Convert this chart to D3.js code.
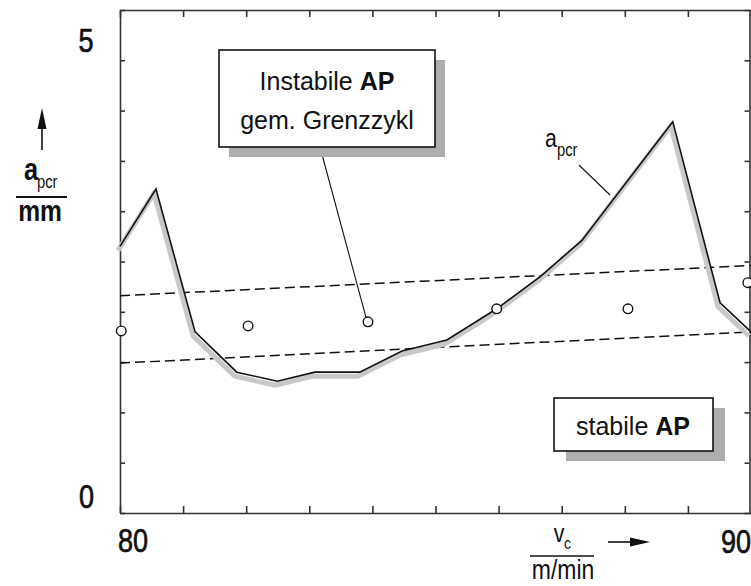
<!DOCTYPE html>
<html>
<head>
<meta charset="utf-8">
<script src="https://cdn.jsdelivr.net/npm/d3@7"></script>
<style>
  html, body { margin: 0; padding: 0; background: #fff; }
  svg { display: block; }
  text { font-family: "Liberation Sans", Arial, sans-serif; fill: #111; }
</style>
</head>
<body>
<svg id="chart" width="751" height="586"></svg>
<script>
// ---------- data ----------
const xDomain = [80, 90];
const yDomain = [0, 5];
const xTickValues = [80, 81, 82, 83, 84, 85, 86, 87, 88, 89, 90];
const yTickValues = [0, 0.5, 1, 1.5, 2, 2.5, 3, 3.5, 4, 4.5, 5];
const xTickLabels = ["80", "90"];
const yTickLabels = ["0", "5"];

// a_pcr curve (v_c in m/min, a_pcr in mm)
const apcrV = [80.00, 80.57, 81.19, 81.85, 82.49, 83.09, 83.80, 84.47, 85.18, 85.97, 86.66, 87.32, 88.76, 89.51, 90.00];
const apcrA = [2.65, 3.22, 1.80, 1.40, 1.31, 1.40, 1.40, 1.61, 1.72, 2.03, 2.35, 2.71, 3.89, 2.09, 1.80];

// measured points (open circles)
const pointV = [80.02, 82.03, 83.93, 85.97, 88.05, 89.95];
const pointA = [1.81, 1.86, 1.90, 2.03, 2.03, 2.29];

// limit-cycle band (dashed)
const upperV = [80, 90];
const upperA = [2.16, 2.46];
const lowerV = [80, 90];
const lowerA = [1.49, 1.80];

// ---------- layout ----------
const svg = d3.select("#chart");
const padL = 120, padR = 751, padT = 10, padB = 513;
const x = d3.scaleLinear().domain(xDomain).range([padL, padR]);
const y = d3.scaleLinear().domain(yDomain).range([padB, padT]);

const NARROW = 0.82;
function label(txt, px, py, size, opts = {}) {
  const t = svg.append("text")
    .attr("transform", `translate(${px},${py}) scale(${opts.sx ?? NARROW},1)`)
    .attr("text-anchor", opts.anchor || "start")
    .style("font-size", size + "px")
    .style("font-weight", opts.bold ? "bold" : "normal")
    .text(txt);
  if (opts.stroke) t.attr("stroke", "#111").attr("stroke-width", opts.stroke);
  return t;
}

// ---------- axes / frame ----------
const frameColor = "#333";
const axB = d3.axisBottom(x).tickValues(xTickValues).tickSizeInner(-7).tickSizeOuter(0).tickFormat("");
const axT = d3.axisTop(x).tickValues(xTickValues).tickSizeInner(-7).tickSizeOuter(0).tickFormat("");
const axL = d3.axisLeft(y).tickValues(yTickValues).tickSizeInner(-5).tickSizeOuter(0).tickFormat("");
const axR = d3.axisRight(y).tickValues(yTickValues).tickSizeInner(-5).tickSizeOuter(0).tickFormat("");

function styleAxis(g) {
  g.selectAll("path").attr("stroke", frameColor).attr("stroke-width", 1.6);
  g.selectAll("line").attr("stroke", frameColor).attr("stroke-width", 1.6);
}
svg.append("g").attr("transform", `translate(0,${padB})`).call(axB).call(styleAxis);
svg.append("g").attr("transform", `translate(0,${padT})`).call(axT).call(styleAxis);
svg.append("g").attr("transform", `translate(${padL},0)`).call(axL).call(styleAxis);
svg.append("g").attr("transform", `translate(${padR - 1.5},0)`).call(axR).call(styleAxis);

// tick labels (regular, slightly thickened)
label(yTickLabels[1], 86, y(5) + 42, 33, { anchor: "middle", stroke: 0.7 });
label(yTickLabels[0], 86.5, y(0) - 5, 33, { anchor: "middle", stroke: 0.7 });
label(xTickLabels[0], x(80) + 13, 552, 33, { anchor: "middle", stroke: 0.7 });
label(xTickLabels[1], x(90) - 15, 553, 33, { anchor: "middle", stroke: 0.7 });

// ---------- dashed band ----------
const line = d3.line().x(d => x(d[0])).y(d => y(d[1]));
const upper = upperV.map((v, i) => [v, upperA[i]]);
const lower = lowerV.map((v, i) => [v, lowerA[i]]);
[upper, lower].forEach(d => {
  svg.append("path").attr("d", line(d)).attr("fill", "none")
    .attr("stroke", "#111").attr("stroke-width", 1.5).attr("stroke-dasharray", "10,5");
});

// ---------- a_pcr curve with shadow ----------
const apcr = apcrV.map((v, i) => [v, apcrA[i]]);
svg.append("path").attr("d", line(apcr)).attr("fill", "none")
  .attr("transform", "translate(-2,4)")
  .attr("stroke", "#c8c8c8").attr("stroke-width", 5).attr("stroke-linejoin", "round");
svg.append("path").attr("d", line(apcr)).attr("fill", "none")
  .attr("stroke", "#111").attr("stroke-width", 1.6).attr("stroke-linejoin", "miter");

// ---------- circles ----------
svg.selectAll("circle.pt").data(pointV.map((v, i) => [v, pointA[i]])).enter()
  .append("circle").attr("class", "pt")
  .attr("cx", d => x(d[0])).attr("cy", d => y(d[1])).attr("r", 4.8)
  .attr("fill", "#fff").attr("stroke", "#111").attr("stroke-width", 1.4);

// ---------- annotation boxes ----------
function box(x0, y0, x1, y1, dx, dy) {
  svg.append("rect").attr("x", x0 + dx).attr("y", y0 + dy).attr("width", x1 - x0).attr("height", y1 - y0)
    .attr("fill", "#adadad");
  svg.append("rect").attr("x", x0).attr("y", y0).attr("width", x1 - x0).attr("height", y1 - y0)
    .attr("fill", "#fff").attr("stroke", "#111").attr("stroke-width", 1.6);
}

// leader to circle 3
svg.append("line").attr("x1", 320).attr("y1", 147).attr("x2", x(pointV[2]) - 2).attr("y2", y(pointA[2]) - 4.5)
  .attr("stroke", "#111").attr("stroke-width", 1.1);
box(219, 50, 435, 147, 10, 10);
{
  const t = svg.append("text").attr("x", 327).attr("y", 90).attr("text-anchor", "middle").style("font-size", "25px");
  t.append("tspan").text("Instabile ");
  t.append("tspan").style("font-weight", "bold").text("AP");
  svg.append("text").attr("x", 327).attr("y", 129).attr("text-anchor", "middle").style("font-size", "25px")
    .text("gem. Grenzzykl");
}

box(554, 398, 713, 451, 12, 10);
{
  const t = svg.append("text").attr("x", 633).attr("y", 435).attr("text-anchor", "middle").style("font-size", "25px");
  t.append("tspan").text("stabile ");
  t.append("tspan").style("font-weight", "bold").text("AP");
}

// a_pcr curve label
label("a", 545, 147, 26);
label("pcr", 557, 156, 18);
svg.append("line").attr("x1", 579).attr("y1", 165).attr("x2", 610).attr("y2", 195)
  .attr("stroke", "#111").attr("stroke-width", 1.1);

// ---------- y axis title ----------
svg.append("line").attr("x1", 42).attr("y1", 150).attr("x2", 42).attr("y2", 126)
  .attr("stroke", "#111").attr("stroke-width", 1.6);
svg.append("path").attr("d", "M42,108 L46.5,129 L37.5,129 Z").attr("fill", "#111");
label("a", 24, 180, 31, { bold: true });
label("pcr", 37, 188, 18);
svg.append("line").attr("x1", 16).attr("y1", 197).attr("x2", 67).attr("y2", 197)
  .attr("stroke", "#111").attr("stroke-width", 2);
label("mm", 40, 221, 30, { bold: true, anchor: "middle" });

// ---------- x axis title ----------
label("v", 559, 542, 26, { anchor: "middle" });
label("c", 564, 549, 17);
svg.append("line").attr("x1", 530).attr("y1", 556).attr("x2", 594).attr("y2", 556)
  .attr("stroke", "#111").attr("stroke-width", 1.6);
label("m/min", 563, 579, 28, { anchor: "middle" });
svg.append("line").attr("x1", 608).attr("y1", 542).attr("x2", 634).attr("y2", 542)
  .attr("stroke", "#111").attr("stroke-width", 1.6);
svg.append("path").attr("d", "M650,542 L630,537.5 L630,546.5 Z").attr("fill", "#111");
</script>
</body>
</html>
